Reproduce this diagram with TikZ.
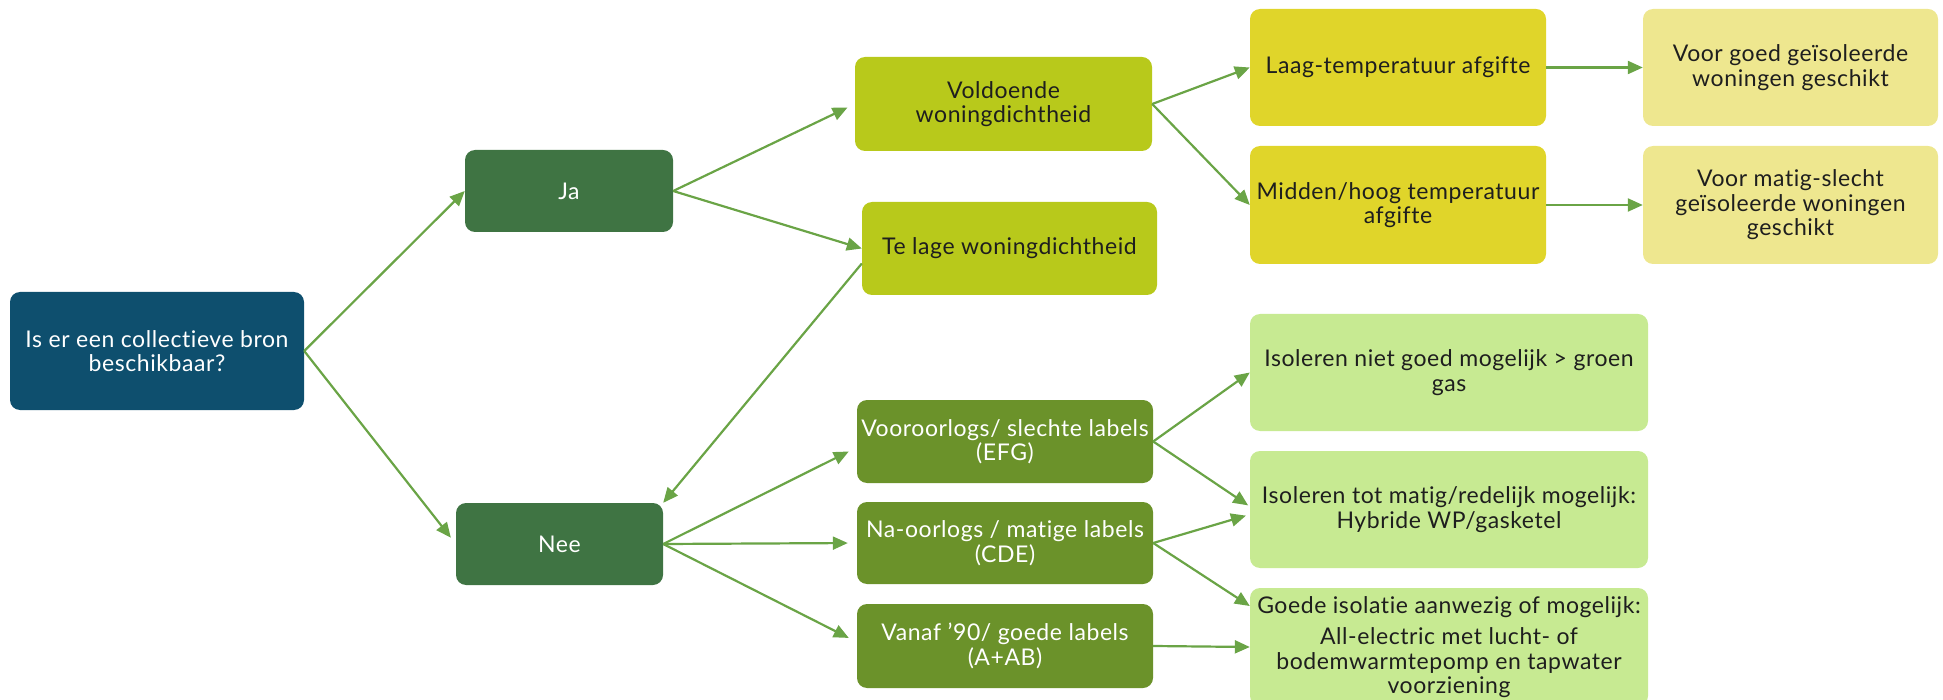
\documentclass[tikz,border=0pt]{standalone}
\usepackage{fontspec}
\setmainfont{Lato}[Ligatures=NoCommon, LetterSpace=2.5]
\usetikzlibrary{arrows.meta}
\definecolor{cblue}{RGB}{14,79,110}
\definecolor{cdkgreen}{RGB}{63,116,67}
\definecolor{cyelgreen}{RGB}{184,201,27}
\definecolor{cyellow}{RGB}{224,213,42}
\definecolor{cpaleyel}{RGB}{238,231,143}
\definecolor{colive}{RGB}{107,146,42}
\definecolor{cltgreen}{RGB}{199,234,146}
\definecolor{carrow}{RGB}{106,164,70}
\definecolor{cdarktext}{RGB}{30,30,30}
\tikzset{
  box/.style={rectangle, rounded corners=10pt, inner sep=0pt, align=center,
    font=\fontsize{23}{24.5}\selectfont},
  sz/.style 2 args={minimum width=#1pt, minimum height=#2pt},
  darkbox/.style={box, text=white},
  lightbox/.style={box, text=cdarktext},
  arr/.style={draw=carrow, line width=2.2pt, -{Triangle[length=15pt,width=13pt]}}
}
\begin{document}
\begin{tikzpicture}[x=1pt,y=-1pt]
\useasboundingbox (0,0) rectangle (1943,700);
% nodes
\node[darkbox, fill=cblue, sz={294}{118}] (q) at (157,351) {Is er een collectieve bron\\beschikbaar?};
\node[darkbox, fill=cdkgreen, sz={208}{82}] (ja) at (569,191) {Ja};
\node[darkbox, fill=cdkgreen, sz={207}{82}] (nee) at (559.5,544) {Nee};
\node[lightbox, fill=cyelgreen, sz={297}{94}] (vold) at (1003.5,104) {Voldoende\\woningdichtheid};
\node[lightbox, fill=cyelgreen, sz={295}{93}] (tel) at (1009.5,248.5) {Te lage woningdichtheid};
\node[lightbox, fill=cyellow, sz={296}{117}] (laag) at (1398,67.5) {Laag-temperatuur afgifte};
\node[lightbox, fill=cyellow, sz={296}{118}] (midden) at (1398,205) {Midden/hoog temperatuur\\afgifte};
\node[lightbox, fill=cpaleyel, sz={295}{117}] (vgoed) at (1790.5,67.5) {Voor goed geïsoleerde\\woningen geschikt};
\node[lightbox, fill=cpaleyel, sz={295}{118}] (vmatig) at (1790.5,205) {Voor matig-slecht\\geïsoleerde woningen\\geschikt};
\node[darkbox, fill=colive, sz={296}{83}] (voor) at (1005,441.5) {Vooroorlogs/ slechte labels\\(EFG)};
\node[darkbox, fill=colive, sz={296}{82}] (na) at (1005,543) {Na-oorlogs / matige labels\\(CDE)};
\node[darkbox, fill=colive, sz={296}{84}] (vanaf) at (1005,646) {Vanaf ’90/ goede labels\\(A+AB)};
\node[lightbox, fill=cltgreen, sz={398}{117}] (isoniet) at (1449,372.5) {Isoleren niet goed mogelijk > groen\\gas};
\node[lightbox, fill=cltgreen, sz={398}{117}] (isotot) at (1449,509.5) {Isoleren tot matig/redelijk mogelijk:\\Hybride WP/gasketel};
\node[lightbox, fill=cltgreen, sz={398}{118}] (goede) at (1449,647) {Goede isolatie aanwezig of mogelijk:\\[7pt]All-electric met lucht- of\\bodemwarmtepomp en tapwater\\voorziening};
% connectors
\draw[arr] (q.east) -- (ja.west);
\draw[arr, shorten >=8pt] (q.east) -- (nee.west);
\draw[arr, shorten >=8pt] (ja.east) -- (vold.west);
\draw[arr] (ja.east) -- (tel.west);
\draw[arr] ([yshift=-15pt]tel.west) -- (nee.north east);
\draw[arr] (vold.east) -- (laag.west);
\draw[arr] (vold.east) -- (midden.west);
\draw[arr] (laag.east) -- (vgoed.west);
\draw[arr] (midden.east) -- (vmatig.west);
\draw[arr, shorten >=9pt] (nee.east) -- ([yshift=-6pt]voor.west);
\draw[arr, shorten >=9pt] (nee.east) -- (na.west);
\draw[arr, shorten >=9pt] (nee.east) -- ([yshift=4pt]vanaf.west);
\draw[arr] (voor.east) -- (isoniet.west);
\draw[arr, shorten >=2pt] (voor.east) -- ([yshift=3pt]isotot.west);
\draw[arr, shorten >=4pt] (na.east) -- ([yshift=-5pt]isotot.west);
\draw[arr] (na.east) -- ([yshift=41pt]goede.west);
\draw[arr] (vanaf.east) -- (goede.west);
\end{tikzpicture}
\end{document}
